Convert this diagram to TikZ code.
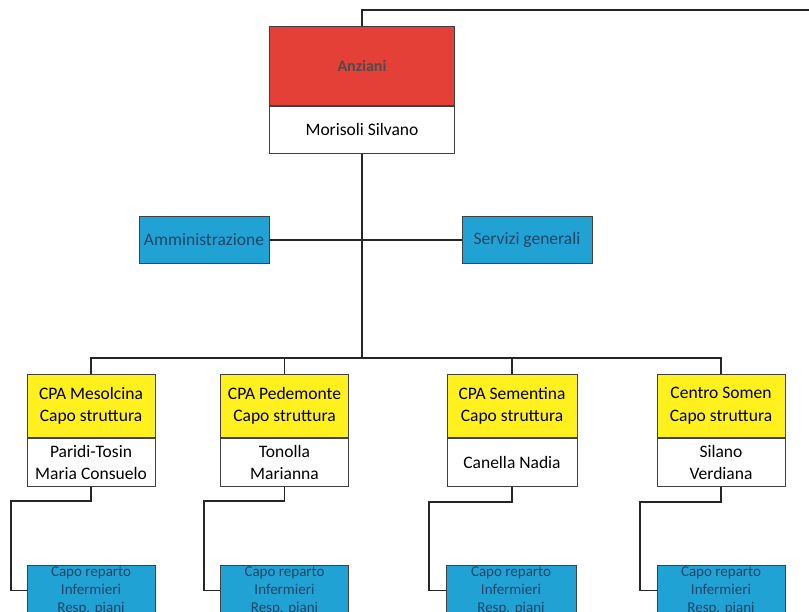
\documentclass[tikz,border=0pt]{standalone}
\usepackage{fontspec}
\setmainfont{Carlito}
\usetikzlibrary{positioning}

\definecolor{anzred}{RGB}{229,64,56}
\definecolor{ufblue}{RGB}{33,162,212}
\definecolor{cpayellow}{RGB}{255,240,30}
\definecolor{bluetext}{RGB}{30,70,105}

\tikzset{
  box/.style={draw=black!75, line width=0.9pt, align=center, inner sep=1pt,
    font=\fontsize{17.5}{22.5}\selectfont},
  headbox/.style={box, fill=anzred, minimum width=185, minimum height=79,
    text=black!70, font=\fontsize{16}{20}\selectfont\bfseries},
  namebox/.style={box, fill=white, minimum width=128, minimum height=48},
  ufbox/.style={box, fill=ufblue, minimum width=130, minimum height=47, text=bluetext},
  cpabox/.style={box, fill=cpayellow, minimum width=128, minimum height=63},
  repbox/.style={box, fill=ufblue, minimum width=128, minimum height=48, text=bluetext,
    font=\fontsize{15}{18.3}\selectfont},
  link/.style={line width=1.1pt, black!85}
}

\begin{document}
\begin{tikzpicture}[x=1pt,y=-1pt]
\useasboundingbox (0,0) rectangle (809,611);

% direzione
\node[headbox, anchor=north] (anz) at (362,26) {Anziani};
\node[namebox, minimum width=185, minimum height=47, below=0pt of anz] (anzname) {Morisoli Silvano};
\coordinate (topright) at (809,10);
\draw[link] (anz.north) |- (topright);

% servizi di staff
\node[ufbox] (amm) at (204,240) {Amministrazione};
\node[ufbox] (serv) at (527,240) {Servizi generali};
\coordinate (bus) at (362,358);
\draw[link] (anzname.south) -- (bus);
\draw[link] (amm.east) -- (serv.west);

% strutture
\node[cpabox, anchor=north] (cpa1) at (91,374) {CPA Mesolcina\\Capo struttura};
\node[cpabox, anchor=north] (cpa2) at (284.5,374) {CPA Pedemonte\\Capo struttura};
\node[cpabox, anchor=north, minimum width=130] (cpa3) at (512,374) {CPA Sementina\\Capo struttura};
\node[cpabox, anchor=north] (cpa4) at (721,374) {Centro Somen\\Capo struttura};

\node[namebox, below=0pt of cpa1] (capo1) {Paridi-Tosin\\Maria Consuelo};
\node[namebox, below=0pt of cpa2] (capo2) {Tonolla\\Marianna};
\node[namebox, below=0pt of cpa3, minimum width=130] (capo3) {Canella Nadia};
\node[namebox, below=0pt of cpa4] (capo4) {Silano\\Verdiana};

\draw[link] (cpa1.north) |- (bus -| cpa4.north) -- (cpa4.north);
\draw[link] (cpa2.north) -- (cpa2.north |- bus);
\draw[link] (cpa3.north) -- (cpa3.north |- bus);

% reparti
\node[repbox, anchor=north] (rep1) at (91,565) {Capo reparto\\Infermieri\\Resp. piani};
\node[repbox, anchor=north] (rep2) at (284.5,565) {Capo reparto\\Infermieri\\Resp. piani};
\node[repbox, anchor=north, minimum width=130] (rep3) at (511,565) {Capo reparto\\Infermieri\\Resp. piani};
\node[repbox, anchor=north] (rep4) at (721,565) {Capo reparto\\Infermieri\\Resp. piani};

\coordinate (k1) at (11,501);
\coordinate (k2) at (204,501);
\coordinate (k3) at (429,502);
\coordinate (k4) at (640,502);
\foreach \i in {1,2,3,4}
  \draw[link] (capo\i.south) |- (k\i) |- (rep\i.west);
\end{tikzpicture}
\end{document}
